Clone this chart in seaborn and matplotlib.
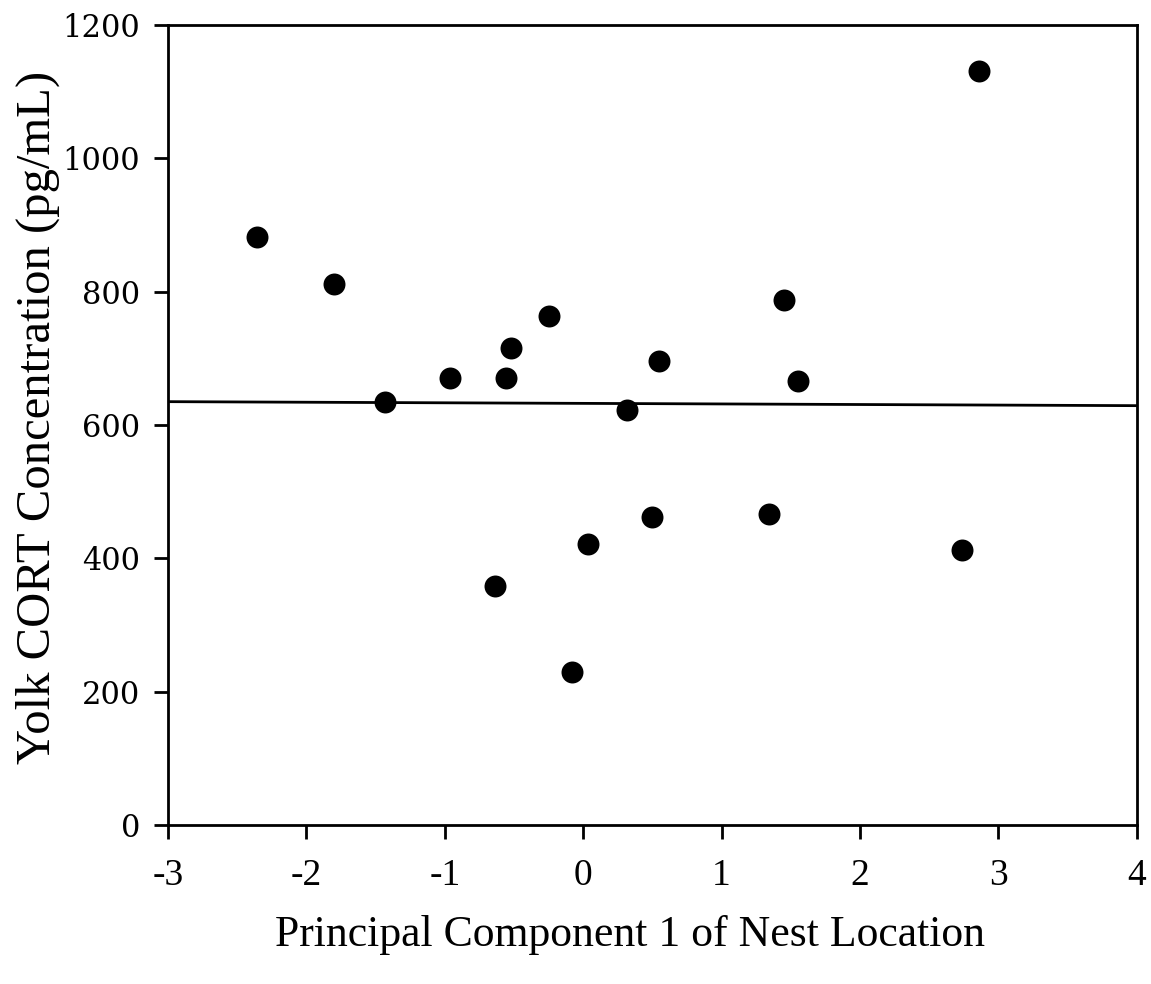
import matplotlib
matplotlib.use("Agg")
import matplotlib.pyplot as plt
import seaborn as sns
import pandas as pd

# Data
pc1 = [-2.36, -1.80, -1.43, -0.96, -0.56, -0.52, -0.25, -0.64, -0.08, 0.035,
       0.32, 0.50, 0.545, 1.34, 1.45, 1.55, 2.74, 2.86]
cort = [882, 811, 635, 670, 670, 716, 764, 359, 229, 421,
        622, 462, 696, 467, 787, 666, 412, 1131]
fit_x = [-3, 4]
fit_y = [635, 629]
xticks = [-3, -2, -1, 0, 1, 2, 3, 4]
yticks = [0, 200, 400, 600, 800, 1000, 1200]

sns.set_theme(style="ticks")
plt.rcParams['font.family'] = ['Liberation Serif', 'DejaVu Serif']
plt.rcParams['text.color'] = 'black'
plt.rcParams['axes.labelcolor'] = 'black'
plt.rcParams['xtick.color'] = 'black'
plt.rcParams['ytick.color'] = 'black'

df = pd.DataFrame({"pc1": pc1, "cort": cort})
fit = pd.DataFrame({"x": fit_x, "y": fit_y})

fig = plt.figure(figsize=(11.51, 9.84), dpi=100)
ax = fig.add_axes([0.146, 0.1616, 0.8415, 0.8130])

sns.lineplot(data=fit, x="x", y="y", ax=ax, color="black", linewidth=2.0)
sns.scatterplot(data=df, x="pc1", y="cort", ax=ax, color="black", s=250,
                edgecolor="black", linewidth=0, zorder=3)

ax.set_xlim(-3, 4)
ax.set_ylim(0, 1200)
ax.set_xticks(xticks)
ax.set_yticks(yticks)
ax.set_xticklabels([str(t) for t in xticks], fontsize=27, family='Liberation Serif')
ax.set_yticklabels([str(t) for t in yticks], fontsize=22, family='DejaVu Serif')
ax.tick_params(axis='both', direction='out', length=10, width=2, color='black')
ax.tick_params(axis='x', pad=14)
ax.tick_params(axis='y', pad=10)

for sp in ax.spines.values():
    sp.set_linewidth(2.0)
    sp.set_color('black')
    sp.set_visible(True)

ax.set_xlabel("Principal Component 1 of Nest Location", fontsize=31.5)
ax.xaxis.set_label_coords(0.477, -0.113)
ax.xaxis.label.set_va('top')
ax.set_ylabel("Yolk CORT Concentration (pg/mL)", fontsize=35)
ax.yaxis.set_label_coords(-0.112, 0.51)

fig.savefig("out.png", dpi=100, facecolor="white")
